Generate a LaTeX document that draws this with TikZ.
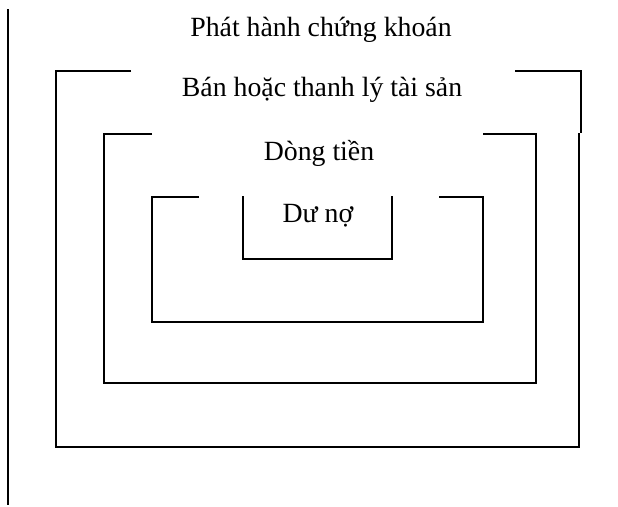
\documentclass[tikz,border=0pt]{standalone}
\usepackage{fontspec}
\setmainfont{Liberation Serif}

\begin{document}
\begin{tikzpicture}[x=1pt, y=-1pt, line width=2.2pt, inner sep=0pt,
    lbl/.style={anchor=base, font=\fontsize{27.8}{33}\selectfont}]
  \useasboundingbox (0,0) rectangle (618,506);
  \path node (PH) at (321, 36) [lbl] {Phát hành chứng khoán}
        node (BH) at (322, 96) [lbl] {Bán hoặc thanh lý tài sản}
        node (DT) at (319,160) [lbl] {Dòng tiền}
        node (DN) at (318,222) [lbl] {Dư nợ};
  % left rule
  \draw (8,9) -- (8,505);
  % frames, outer to inner
  \draw (131,71) -- (56,71) -- (56,447) -- (579,447) -- (579,133);
  \draw (515,71) -- (581,71) -- (581,133);
  \draw (152,134) -- (104,134) -- (104,383) -- (536,383) -- (536,134) -- (483,134);
  \draw (199,197) -- (152,197) -- (152,322) -- (483,322) -- (483,197) -- (439,197);
  \draw (243,196) -- (243,259) -- (392,259) -- (392,196);
\end{tikzpicture}
\end{document}
